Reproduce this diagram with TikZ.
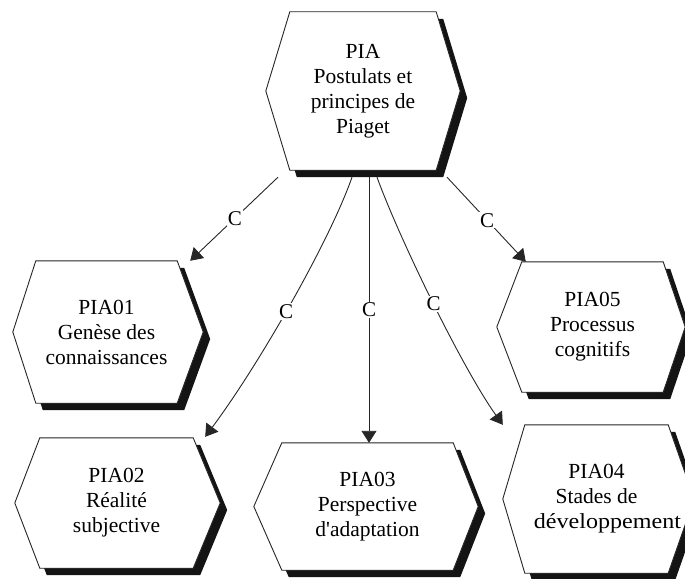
\documentclass[tikz,border=0pt]{standalone}
\usepackage{fontspec}
\setmainfont{Liberation Serif}
\usetikzlibrary{arrows.meta}
\pgfdeclarelayer{hexlayer}
\pgfsetlayers{hexlayer,main}

\tikzset{
  hexbox/.style={rectangle, inner sep=0pt, align=center,
    font=\fontsize{21.5}{25}\selectfont},
  hexshadow/.style={fill=black!92},
  hexedge/.style={draw=black!85, fill=white, line width=0.9pt, line join=miter},
  conn/.style={draw=black!85, line width=0.9pt,
    -{Triangle[length=12pt,width=15pt]}},
  clabel/.style={fill=white, inner sep=1pt, font=\fontsize{21}{25}\selectfont}
}

% Hexagonal frame with a drop shadow around a named node.
% #1 node name, #2 left point depth, #3 right point depth (pt)
\newcommand{\hexframe}[3]{%
  \begin{pgfonlayer}{hexlayer}
    \fill[hexshadow]
      ([shift={(7,7)}]#1.north west) -- ([shift={(7,7)}]#1.north east)
      -- ([shift={(7+#3,7)}]#1.east) -- ([shift={(7,7)}]#1.south east)
      -- ([shift={(7,7)}]#1.south west) -- ([shift={(7-#2,7)}]#1.west) -- cycle;
    \path[hexedge]
      (#1.north west) -- (#1.north east) -- ([shift={(#3,0)}]#1.east)
      -- (#1.south east) -- (#1.south west) -- ([shift={(-#2,0)}]#1.west) -- cycle;
  \end{pgfonlayer}%
}

\begin{document}
\begin{tikzpicture}[x=1pt, y=-1pt]
  \useasboundingbox (0,0) rectangle (685,578);

  % concept nodes
  \node[hexbox, minimum width=146pt, minimum height=158pt] (pia) at (363,91)
    {PIA\\Postulats et\\principes de\\Piaget};
  \node[hexbox, minimum width=141pt, minimum height=142pt] (pia01) at (106.5,332)
    {PIA01\\Genèse des\\connaissances};
  \node[hexbox, minimum width=153pt, minimum height=130pt] (pia02) at (116.5,503)
    {PIA02\\Réalité\\subjective};
  \node[hexbox, minimum width=171pt, minimum height=127pt] (pia03) at (367.5,506.5)
    {PIA03\\Perspective\\d\textquotesingle adaptation};
  \node[hexbox, minimum width=143pt, minimum height=148pt] (pia04) at (596.5,499)
    {PIA04\\Stades de\\\makebox[120pt]{\hspace*{22pt}{\addfontfeature{FakeStretch=1.12}développement}}};
  \node[hexbox, minimum width=141pt, minimum height=130pt] (pia05) at (592.5,327)
    {PIA05\\Processus\\cognitifs};

  \hexframe{pia}{24}{24}
  \hexframe{pia01}{23}{26}
  \hexframe{pia02}{25}{27}
  \hexframe{pia03}{28}{25}
  \hexframe{pia04}{22}{26}
  \hexframe{pia05}{25}{22}

  % composition links
  \draw[conn] ([xshift=-85pt, yshift=-7pt]pia.south)
    -- node[clabel, pos=0.49] {C} ([xshift=13pt]pia01.north east);
  \draw[conn] ([xshift=-11pt, yshift=-7pt]pia.south)
    .. controls +(-22,63) and +(55,-74) ..
    node[clabel, pos=0.53] {C} ([xshift=12pt, yshift=1pt]pia02.north east);
  \draw[conn] ([xshift=6pt, yshift=-7pt]pia.south)
    -- node[clabel, pos=0.5] {C} ([xshift=1.5pt]pia03.north);
  \draw[conn] ([xshift=14pt, yshift=-7pt]pia.south)
    .. controls +(23,63) and +(-40,-56) ..
    node[clabel, pos=0.5] {C} ([xshift=-22pt]pia04.north west);
  \draw[conn] ([xshift=84pt, yshift=-7pt]pia.south)
    -- node[clabel, pos=0.51] {C} ([xshift=4pt]pia05.north west);
\end{tikzpicture}
\end{document}
